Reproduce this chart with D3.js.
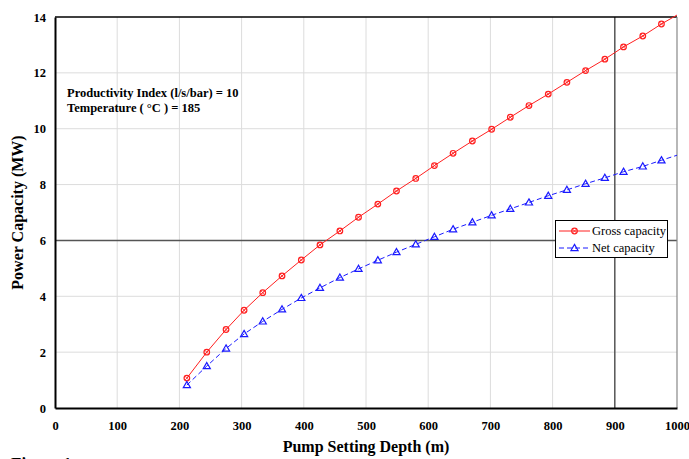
<!DOCTYPE html>
<html><head><meta charset="utf-8">
<script src="https://cdn.jsdelivr.net/npm/d3@7"></script>
<style>body{margin:0;background:#fff;} svg{display:block;} svg text{font-family:'Liberation Serif','Times New Roman','DejaVu Serif',serif !important;}</style>
</head><body><svg id="c" width="689" height="459"></svg>
<script>
const depths = [212,244,275,304,334,365,396,426,458,488,519,549,580,610,640,671,702,732,762,793,823,853,884,914,945,975,1000];
const gross  = [1.07,2.00,2.81,3.50,4.13,4.73,5.30,5.84,6.34,6.83,7.30,7.77,8.22,8.68,9.12,9.56,9.98,10.41,10.83,11.24,11.66,12.08,12.49,12.93,13.32,13.75,14.07];
const net    = [0.82,1.50,2.13,2.65,3.10,3.53,3.94,4.30,4.67,4.98,5.29,5.58,5.86,6.13,6.40,6.65,6.90,7.13,7.36,7.60,7.81,8.03,8.24,8.46,8.65,8.87,9.05];
const xTicks = [0,100,200,300,400,500,600,700,800,900,1000];
const yTicks = [0,2,4,6,8,10,12,14];
const seriesNames = ["Gross capacity","Net capacity"];
const notes = ["Productivity Index (l/s/bar) = 10","Temperature ( °C ) = 185"];

const FONT = "'Liberation Serif','Times New Roman','DejaVu Serif',serif";
const svg = d3.select("#c");
const L=55,R=677,T=17,B=408;
const x = d3.scaleLinear().domain([0,1000]).range([L,R]);
const y = d3.scaleLinear().domain([0,14]).range([B,T]);

// grid
svg.append("g").selectAll("line").data(xTicks.filter(d=>d>0&&d<1000&&d!==900)).join("line")
  .attr("x1",d=>x(d)).attr("x2",d=>x(d)).attr("y1",T).attr("y2",B).attr("stroke","#dcdcdc").attr("stroke-width",1);
svg.append("g").selectAll("line").data(yTicks.filter(d=>d>0&&d<14&&d!==6)).join("line")
  .attr("y1",d=>y(d)).attr("y2",d=>y(d)).attr("x1",L).attr("x2",R).attr("stroke","#dcdcdc").attr("stroke-width",1);
// reference lines
svg.append("line").attr("x1",L).attr("x2",R).attr("y1",y(6)).attr("y2",y(6)).attr("stroke","#555").attr("stroke-width",1.5);
svg.append("line").attr("x1",x(900)).attr("x2",x(900)).attr("y1",T).attr("y2",B).attr("stroke","#555").attr("stroke-width",1.5);
// frame
svg.append("line").attr("x1",L).attr("x2",R).attr("y1",T).attr("y2",T).attr("stroke","#000").attr("stroke-width",1.5);
svg.append("line").attr("x1",R).attr("x2",R).attr("y1",T).attr("y2",B).attr("stroke","#888").attr("stroke-width",1.2);

// axes
const xAxis = d3.axisBottom(x).tickValues(xTicks).tickSize(0).tickPadding(13).tickFormat(d3.format("d"));
const gx = svg.append("g").attr("transform",`translate(0,${B})`).call(xAxis);
const yAxis = d3.axisLeft(y).tickValues(yTicks).tickSize(0).tickPadding(9).tickFormat(d3.format("d"));
const gy = svg.append("g").attr("transform",`translate(${L},0)`).call(yAxis);
[gx,gy].forEach(g=>{
  g.attr("font-family",FONT);
  g.select(".domain").attr("stroke","#000").attr("stroke-width",2);
  g.selectAll("text").attr("font-family",FONT).attr("font-weight","bold").attr("font-size",12.5).attr("fill","#000");
});

svg.append("text").attr("x",(L+R)/2).attr("y",452).attr("text-anchor","middle").attr("font-family",FONT)
  .attr("font-weight","bold").attr("font-size",16).text("Pump Setting Depth (m)");
svg.append("text").attr("transform",`translate(23,${(T+B)/2}) rotate(-90)`).attr("text-anchor","middle").attr("font-family",FONT)
  .attr("font-weight","bold").attr("font-size",16).text("Power Capacity (MW)");

svg.selectAll(".note").data(notes).join("text").attr("class","note").attr("font-family",FONT)
  .attr("x",67).attr("y",(d,i)=>97+i*15).attr("font-weight","bold").attr("font-size",12.5).text(d=>d);

svg.append("text").attr("x",11).attr("y",469).attr("font-family",FONT).attr("font-weight","bold").attr("font-size",17).text("Figure 1");

// lines
const pts = (vals)=>depths.map((d,i)=>[d,vals[i]]);
const line = d3.line().x(d=>x(d[0])).y(d=>y(d[1]));
svg.append("path").attr("d",line(pts(gross))).attr("fill","none").attr("stroke","#ff2020").attr("stroke-width",1);
svg.append("path").attr("d",line(pts(net))).attr("fill","none").attr("stroke","#1a1aff").attr("stroke-width",1).attr("stroke-dasharray","5,3");

function circMarker(g,cx,cy){
  g.append("circle").attr("cx",cx).attr("cy",cy).attr("r",2.8).attr("fill","none").attr("stroke","#ff2020").attr("stroke-width",1.2);
  g.append("line").attr("x1",cx-2).attr("x2",cx+2).attr("y1",cy-2).attr("y2",cy+2).attr("stroke","#ff2020").attr("stroke-width",0.8);
  g.append("line").attr("x1",cx-2).attr("x2",cx+2).attr("y1",cy+2).attr("y2",cy-2).attr("stroke","#ff2020").attr("stroke-width",0.8);
}
const triPath = d3.symbol().type(d3.symbolTriangle).size(22);
function triMarker(g,cx,cy){
  g.append("path").attr("d",triPath()).attr("transform",`translate(${cx},${cy+0.5})`).attr("fill","none").attr("stroke","#1a1aff").attr("stroke-width",1.2);
}
const mg = svg.append("g");
pts(gross).slice(0,-1).forEach(p=>circMarker(mg,x(p[0]),y(p[1])));
pts(net).slice(0,-1).forEach(p=>triMarker(mg,x(p[0]),y(p[1])));

// legend
const lg = svg.append("g");
lg.append("rect").attr("x",555.5).attr("y",220.5).attr("width",112).attr("height",37).attr("fill","#fff").attr("stroke","#000").attr("stroke-width",1);
lg.append("line").attr("x1",559).attr("x2",590).attr("y1",231).attr("y2",231).attr("stroke","#ff2020").attr("stroke-width",1);
circMarker(lg,574.5,231);
lg.append("line").attr("x1",559).attr("x2",590).attr("y1",248).attr("y2",248).attr("stroke","#1a1aff").attr("stroke-width",1).attr("stroke-dasharray","5,3");
triMarker(lg,574.5,248);
lg.selectAll("text").data(seriesNames).join("text").attr("x",592).attr("y",(d,i)=>235+i*17).attr("font-family",FONT)
  .attr("font-size",12.5).text(d=>d);
</script></body></html>
